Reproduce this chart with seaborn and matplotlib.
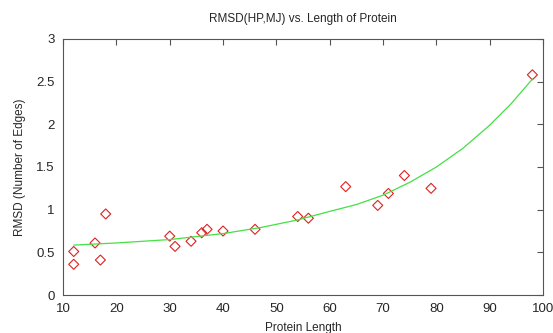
import numpy as np
import pandas as pd
import matplotlib
matplotlib.use("Agg")
import matplotlib.pyplot as plt
import seaborn as sns

sns.set_theme(style="white")
plt.rcParams['font.family'] = ['Liberation Sans', 'DejaVu Sans']

# data
protein_length = [12, 12, 16, 17, 18, 30, 31, 34, 36, 37, 40, 46, 54, 56, 63, 69, 71, 74, 79, 98]
rmsd = [0.51, 0.36, 0.61, 0.41, 0.95, 0.69, 0.57, 0.63, 0.73, 0.77, 0.75, 0.77,
        0.92, 0.90, 1.27, 1.05, 1.19, 1.40, 1.25, 2.58]

# fitted curve
fit_x = [12, 20, 30, 40, 47, 54, 60, 65, 70, 75, 80, 85, 90, 94, 98]
fit_y = [0.585, 0.61, 0.65, 0.72, 0.79, 0.88, 0.98, 1.06, 1.17, 1.32, 1.50, 1.72, 1.99, 2.24, 2.53]

pts = pd.DataFrame({"len": protein_length, "rmsd": rmsd})
fit = pd.DataFrame({"x": fit_x, "y": fit_y})

fig = plt.figure(figsize=(5.53, 3.33), dpi=100)
ax = fig.add_axes([0.114, 0.114, 0.868, 0.769])

sns.lineplot(data=fit, x="x", y="y", ax=ax, color="#44e044", linewidth=0.9)
sns.scatterplot(data=pts, x="len", y="rmsd", ax=ax, marker="D", s=26,
                facecolors="none", edgecolor="#dd2222", linewidth=0.8)

ax.set_xlim(10, 100)
ax.set_ylim(0, 3)
ax.set_xticks(range(10, 101, 10))
ax.set_yticks([0, 0.5, 1, 1.5, 2, 2.5, 3])
ax.set_yticklabels(["0", "0.5", "1", "1.5", "2", "2.5", "3"])
ax.tick_params(direction="in", length=4, top=True, right=True, labelsize=9.5,
               color="#555555", width=0.8, pad=6)
for s in ax.spines.values():
    s.set_color("#555555")
    s.set_linewidth(0.8)

ax.set_title("RMSD(HP,MJ) vs. Length of Protein", fontsize=8.5, pad=12)
ax.set_xlabel("Protein Length", fontsize=8.5, labelpad=5)
ax.set_ylabel("RMSD (Number of Edges)", fontsize=8.5, labelpad=7)

fig.savefig("out.png", dpi=100)
